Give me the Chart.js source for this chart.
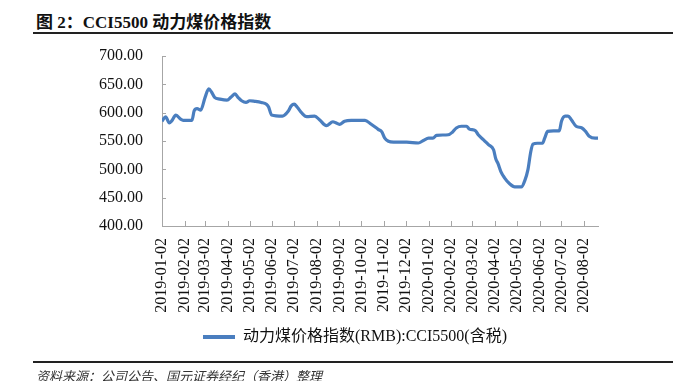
<!DOCTYPE html>
<html lang="zh">
<head>
    <meta charset="UTF-8">
    <title>CCI5500 动力煤价格指数</title>
    <script src="https://cdn.jsdelivr.net/npm/chart.js"></script>
    <style>
        body {
            margin: 0;
            width: 699px;
            height: 381px;
            background-color: white;
            position: relative;
            overflow: hidden;
        }
        .title {
            position: absolute;
            left: 36px;
            top: 8px;
            font-family: "Liberation Serif", "Noto Sans CJK SC", serif;
            font-weight: bold;
            font-size: 17px;
            color: #111;
            white-space: nowrap;
        }
        .rule {
            position: absolute;
            left: 33px;
            width: 640px;
            height: 2px;
            background-color: #222;
        }
        .source {
            position: absolute;
            left: 36px;
            top: 366px;
            font-family: "Noto Sans CJK SC", sans-serif;
            font-style: italic;
            font-size: 13px;
            color: #333;
            white-space: nowrap;
        }
        #chart {
            position: absolute;
            left: 0;
            top: 0;
        }
    </style>
</head>
<body>
    <div class="title">图 2：CCI5500 动力煤价格指数</div>
    <div class="rule" style="top: 32px;"></div>
    <canvas id="chart" width="699" height="381"></canvas>
    <div class="rule" style="top: 361px;"></div>
    <div class="source">资料来源：公司公告、国元证券经纪（香港）整理</div>

    <script>
        // 数据
        const seriesName = '动力煤价格指数(RMB):CCI5500(含税)';
        const dates = ['2019-01-02', '2019-01-07', '2019-01-12', '2019-01-15', '2019-01-21', '2019-01-28', '2019-01-31',
            '2019-02-12', '2019-02-15', '2019-02-19', '2019-02-24',
            '2019-03-02', '2019-03-07', '2019-03-11', '2019-03-15', '2019-03-22',
            '2019-04-01', '2019-04-07', '2019-04-12', '2019-04-16', '2019-04-21', '2019-04-27',
            '2019-05-02', '2019-05-09', '2019-05-18', '2019-05-25', '2019-05-28',
            '2019-06-01', '2019-06-16', '2019-06-24', '2019-06-28',
            '2019-07-02', '2019-07-06', '2019-07-12', '2019-07-19', '2019-07-30',
            '2019-08-06', '2019-08-15', '2019-08-24', '2019-08-28',
            '2019-09-02', '2019-09-09', '2019-09-18',
            '2019-10-07', '2019-10-15', '2019-10-25', '2019-10-30',
            '2019-11-03', '2019-11-08', '2019-11-15',
            '2019-12-03', '2019-12-19', '2019-12-26',
            '2020-01-02', '2020-01-08', '2020-01-13', '2020-01-29',
            '2020-02-04', '2020-02-09', '2020-02-16', '2020-02-23', '2020-02-27',
            '2020-03-06', '2020-03-10', '2020-03-17', '2020-03-24', '2020-03-31',
            '2020-04-03', '2020-04-06', '2020-04-10', '2020-04-15', '2020-04-22', '2020-04-29',
            '2020-05-08', '2020-05-13', '2020-05-17', '2020-05-21', '2020-05-24', '2020-05-30',
            '2020-06-06', '2020-06-09', '2020-06-13', '2020-06-21', '2020-06-29',
            '2020-07-02', '2020-07-07', '2020-07-11', '2020-07-16', '2020-07-22', '2020-07-30',
            '2020-08-04', '2020-08-09', '2020-08-17', '2020-08-21'];
        const values = [585, 592.5, 582, 585, 595.5, 588, 586.5,
            586.5, 603, 607, 604.5,
            627, 642, 636, 627, 624,
            622, 628, 633, 627, 621, 618,
            621, 620, 618, 615, 610,
            596, 594, 603, 612,
            615, 610, 600, 593, 594,
            587, 577, 584, 582,
            579.5, 585, 586.5,
            586.5, 580, 570.5, 566,
            555, 549.5, 548,
            548, 546.5, 551,
            555, 555, 560, 561,
            566, 573, 576, 576, 571,
            568.5, 561, 552.5, 543.5, 534.5,
            518.5, 510.5, 496, 485, 474.5, 469,
            469, 481, 499, 531.5, 544.5, 546,
            546, 555, 567, 568, 568,
            585, 594, 594, 586.5, 576, 573,
            567, 558.5, 555, 555];
        const xTickLabels = ['2019-01-02', '2019-02-02', '2019-03-02', '2019-04-02', '2019-05-02', '2019-06-02',
            '2019-07-02', '2019-08-02', '2019-09-02', '2019-10-02', '2019-11-02', '2019-12-02',
            '2020-01-02', '2020-02-02', '2020-03-02', '2020-04-02', '2020-05-02', '2020-06-02',
            '2020-07-02', '2020-08-02'];
        const yMin = 400;
        const yMax = 700;
        const yStep = 50;

        // 日期 -> 天数
        const day0 = Date.parse(dates[0]);
        const toDay = s => (Date.parse(s) - day0) / 86400000;
        const xTickDays = xTickLabels.map(toDay);

        const serif = "'Liberation Serif', 'Noto Sans CJK SC', serif";
        const axisColor = '#a6a6a6';
        const lineColor = '#4a7ebf';

        // 坐标轴内侧刻度
        const innerTicks = {
            id: 'innerTicks',
            afterDatasetsDraw(chart) {
                const ctx = chart.ctx;
                const x = chart.scales.x;
                const y = chart.scales.y;
                ctx.save();
                ctx.strokeStyle = axisColor;
                ctx.lineWidth = 1;
                ctx.beginPath();
                y.ticks.forEach(t => {
                    const py = Math.round(y.getPixelForValue(t.value)) + 0.5;
                    ctx.moveTo(x.left, py);
                    ctx.lineTo(x.left + 4, py);
                });
                x.ticks.forEach(t => {
                    const px = Math.round(x.getPixelForValue(t.value)) + 0.5;
                    ctx.moveTo(px, y.bottom);
                    ctx.lineTo(px, y.bottom - 5);
                });
                ctx.stroke();
                ctx.restore();
            }
        };

        // 图例稍微右移
        const legendShift = {
            id: 'legendShift',
            afterLayout(chart) {
                chart.legend.left += 56;
                chart.legend.right += 56;
            }
        };

        const ctx = document.getElementById('chart').getContext('2d');
        new Chart(ctx, {
            type: 'line',
            data: {
                datasets: [{
                    label: seriesName,
                    data: dates.map((d, i) => ({ x: toDay(d), y: values[i] })),
                    borderColor: lineColor,
                    backgroundColor: lineColor,
                    borderWidth: 3.2,
                    pointRadius: 0,
                    cubicInterpolationMode: 'monotone',
                    fill: false
                }]
            },
            options: {
                responsive: false,
                animation: false,
                layout: {
                    padding: { left: 0, right: 101, top: 56, bottom: 26 }
                },
                plugins: {
                    tooltip: { enabled: false },
                    legend: {
                        position: 'bottom',
                        labels: {
                            font: { family: serif, size: 16 },
                            color: '#111',
                            boxWidth: 32,
                            boxHeight: 4,
                            padding: 10,
                            generateLabels(chart) {
                                return Chart.defaults.plugins.legend.labels.generateLabels(chart)
                                    .map(l => Object.assign(l, { lineWidth: 0 }));
                            }
                        }
                    }
                },
                scales: {
                    x: {
                        type: 'linear',
                        min: 0,
                        max: toDay(dates[dates.length - 1]),
                        afterBuildTicks(scale) {
                            scale.ticks = xTickDays.map(v => ({ value: v }));
                        },
                        afterFit(scale) {
                            scale.height = 93;
                        },
                        ticks: {
                            autoSkip: false,
                            minRotation: 90,
                            maxRotation: 90,
                            padding: 12,
                            color: '#111',
                            font: { family: serif, size: 16 },
                            callback: (v, i) => xTickLabels[i]
                        },
                        grid: { display: false, drawTicks: false },
                        border: { color: axisColor, width: 1 }
                    },
                    y: {
                        min: yMin,
                        max: yMax,
                        afterFit(scale) {
                            scale.width = 162;
                        },
                        ticks: {
                            stepSize: yStep,
                            padding: 19,
                            color: '#111',
                            font: { family: serif, size: 16 },
                            callback: v => v.toFixed(2)
                        },
                        grid: { display: false, drawTicks: false },
                        border: { color: axisColor, width: 1 }
                    }
                }
            },
            plugins: [innerTicks, legendShift]
        });
    </script>
</body>
</html>
